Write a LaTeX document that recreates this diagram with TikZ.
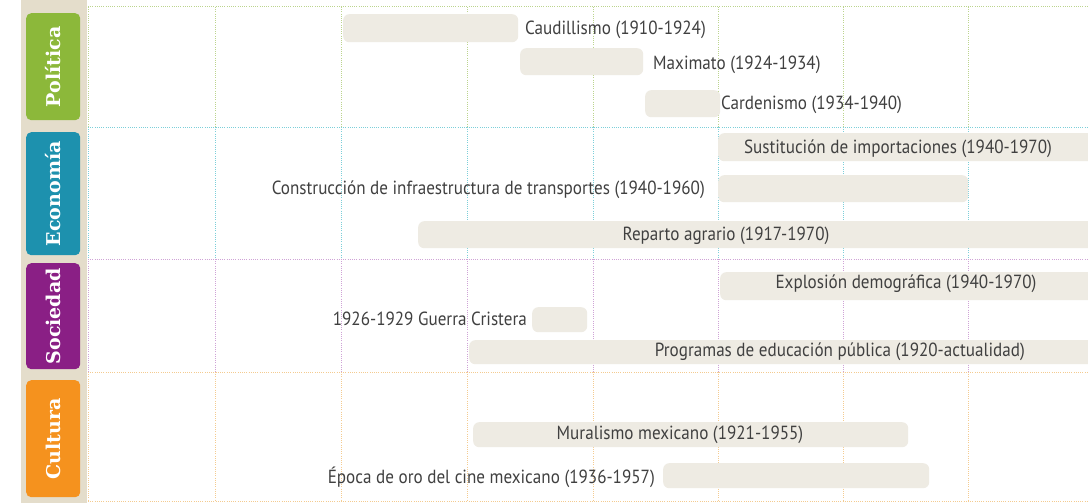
\documentclass[tikz,border=0pt]{standalone}
\usepackage{fontspec}
\setmainfont{PT Sans}[FakeStretch=0.9]
\newfontfamily\tabfont{DejaVu Serif}
\definecolor{polc}{HTML}{8CB83A}
\definecolor{ecoc}{HTML}{1D91AE}
\definecolor{socc}{HTML}{8A1F85}
\definecolor{culc}{HTML}{F5921E}
\definecolor{polg}{HTML}{BCD48E}
\definecolor{ecog}{HTML}{7CCFD9}
\definecolor{socg}{HTML}{CFA3D6}
\definecolor{culg}{HTML}{F4CB90}
\definecolor{strip}{HTML}{E4DDCB}
\definecolor{barc}{HTML}{EEEBE3}
\definecolor{txt}{HTML}{404040}
\begin{document}
\begin{tikzpicture}[x=1pt,y=-1pt,
  grid/.style={line width=1pt, dash pattern=on 1pt off 1.2pt},
  tabbox/.style={rounded corners=5pt, minimum width=54pt, anchor=north west, inner sep=0pt},
  tablabel/.style={text=white, font=\tabfont\bfseries\fontsize{19}{19}\selectfont, rotate=90},
  bar/.style={fill=barc, rounded corners=6pt, anchor=north west, inner sep=0pt},
  lab/.style={text=txt, font=\fontsize{19}{19}\selectfont, inner sep=0pt}]
\useasboundingbox (0,0) rectangle (1088,503);
\fill[white] (0,0) rectangle (1088,503);
% left strip
\fill[strip] (21,0) rectangle (87,503);
% tabs
\node[tabbox, fill=polc, minimum height=107pt] (tp) at (26,13) {};
\node[tabbox, fill=ecoc, minimum height=123pt] (te) at (26,132) {};
\node[tabbox, fill=socc, minimum height=106pt] (ts) at (26,263) {};
\node[tabbox, fill=culc, minimum height=117pt] (tc) at (26,380) {};
\node[tablabel] (lp) at (tp.center) {Política};
\node[tablabel] (le) at (te.center) {Economía};
\node[tablabel] (ls) at (ts.center) {Sociedad};
\node[tablabel] (lc) at (tc.center) {Cultura};
% grid
\foreach \x in {88,215,341,467,593,718,843,968} {
  \draw[grid, polg] (\x,7) -- (\x,127);
  \draw[grid, ecog] (\x,127) -- (\x,259);
  \draw[grid, socg] (\x,259) -- (\x,372);
  \draw[grid, culg] (\x,372) -- (\x,501);
}
\draw[grid, polg] (88,7) -- (1088,7);
\draw[grid, ecog] (88,127) -- (1088,127);
\draw[grid, socg] (88,259) -- (1088,259);
\draw[grid, culg] (88,372) -- (1088,372);
\draw[grid, culg] (88,501) -- (1088,501);
% bars
\node[bar, minimum width=175pt, minimum height=28pt] (b1) at (343,14) {};
\node[bar, minimum width=123pt, minimum height=27pt] (b2) at (520,48) {};
\node[bar, minimum width=75pt, minimum height=27pt] (b3) at (645,90) {};
\node[bar, minimum width=380pt, minimum height=28pt] (b4) at (718,133) {};
\node[bar, minimum width=250pt, minimum height=27pt] (b5) at (718,175) {};
\node[bar, minimum width=680pt, minimum height=27pt] (b6) at (418,221) {};
\node[bar, minimum width=380pt, minimum height=28pt] (b7) at (720,272) {};
\node[bar, minimum width=55pt, minimum height=25pt] (b8) at (532,307) {};
\node[bar, minimum width=630pt, minimum height=24pt] (b9) at (469,340) {};
\node[bar, minimum width=435pt, minimum height=25pt] (b10) at (473,422) {};
\node[bar, minimum width=266pt, minimum height=25pt] (b11) at (663,463) {};
% labels
\node[lab, anchor=west] (t1) at (525,29.5) {Caudillismo (1910-1924)};
\node[lab, anchor=west] (t2) at (653,65) {Maximato (1924-1934)};
\node[lab, anchor=west] (t3) at (721,105) {Cardenismo (1934-1940)};
\node[lab] (t4) at (898,149) {Sustitución de importaciones (1940-1970)};
\node[lab, anchor=east] (t5) at (705,190) {Construcción de infraestructura de transportes (1940-1960)};
\node[lab] (t6) at (726,236) {Reparto agrario (1917-1970)};
\node[lab] (t7) at (906,284) {Explosión demográfica (1940-1970)};
\node[lab, anchor=east] (t8) at (527,319) {1926-1929 Guerra Cristera};
\node[lab, anchor=east] (t9) at (1025,352) {Programas de educación pública (1920-actualidad)};
\node[lab] (t10) at (680,435) {Muralismo mexicano (1921-1955)};
\node[lab, anchor=east] (t11) at (655,477) {Época de oro del cine mexicano (1936-1957)};
\end{tikzpicture}
\end{document}
